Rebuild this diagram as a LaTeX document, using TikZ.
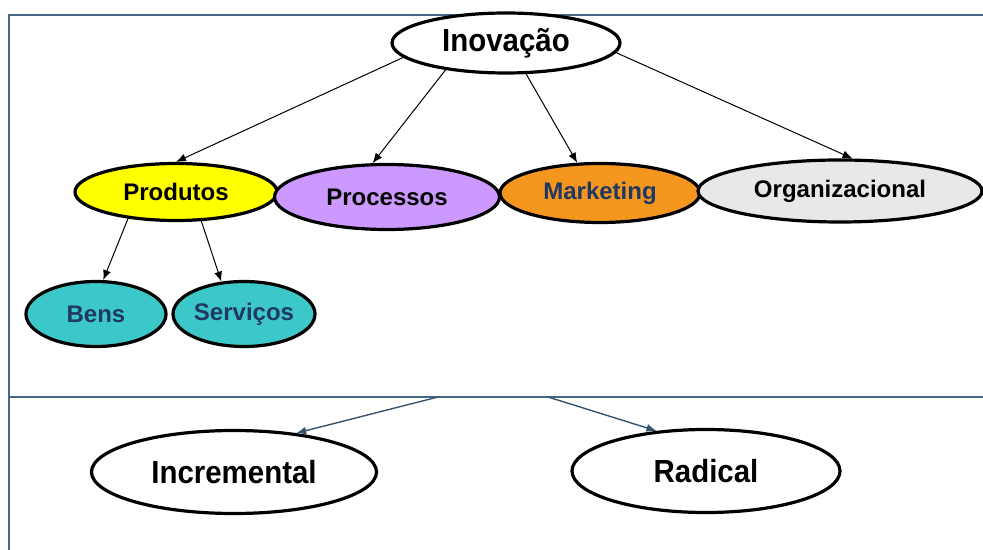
\documentclass[tikz,border=0pt]{standalone}
\usepackage{fontspec}
\setmainfont{Liberation Sans}
\newfontfamily\narrowsans{Liberation Sans}[FakeStretch=0.92]
\definecolor{frameblue}{RGB}{70,105,135}
\definecolor{textblue}{RGB}{31,56,100}
\definecolor{prodyellow}{RGB}{255,255,0}
\definecolor{proclilac}{RGB}{204,153,255}
\definecolor{mktorange}{RGB}{245,150,30}
\definecolor{orggray}{RGB}{232,232,232}
\definecolor{bensteal}{RGB}{60,200,200}
\usetikzlibrary{arrows.meta,shapes.geometric}

\begin{document}
\begin{tikzpicture}[x=0.5pt,y=-0.5pt,
        oval/.style={ellipse,draw,line width=1.6pt,inner sep=0pt,
                     font=\fontsize{12}{14}\selectfont\bfseries},
        big/.style={oval,fill=white,font=\narrowsans\fontsize{16}{18}\selectfont\bfseries},
        arr/.style={-{Latex[length=5pt,width=4pt]},line width=0.5pt},
        barr/.style={arr,frameblue!80!black,line width=0.7pt}]
        \useasboundingbox (0,0) rectangle (983,550);
        \draw[frameblue,line width=1.2pt] (9,550) -- (9,15) -- (983,15);
        \draw[frameblue,line width=1.2pt] (9,397) -- (983,397);
        % top level
        \node[big,minimum width=114pt,minimum height=30pt] (ino) at (506,43) {Inovação};
        \node[oval,fill=prodyellow,minimum width=101pt,minimum height=28.5pt] (prod) at (176,192) {Produtos};
        \node[oval,fill=proclilac,minimum width=112.5pt,minimum height=32.5pt] (proc) at (387,197) {Processos};
        \node[oval,fill=mktorange,text=textblue,minimum width=100pt,minimum height=29.5pt] (mkt) at (600,193) {Marketing};
        \node[oval,fill=orggray,minimum width=142pt,minimum height=31pt] (org) at (840,191) {Organizacional};
        \node[oval,fill=bensteal,text=textblue,minimum width=70pt,minimum height=32.5pt] (bens) at (96,314) {Bens};
        \node[oval,fill=bensteal,text=textblue,minimum width=71pt,minimum height=32.5pt] (serv) at (244,314) {Serviços};
        \draw[arr] (ino.188) -- (prod.north);
        \draw[arr] (ino.204) -- (proc.113);
        \draw[arr] (ino.303) -- (mkt.127);
        \draw[arr] (ino.355) -- (org.69);
        \draw[arr] (prod.209) -- (bens.78);
        \draw[arr] (prod.311) -- (serv.125);
        % bottom level
        \node[big,minimum width=142.5pt,minimum height=41.5pt] (incr) at (234,472) {Incremental};
        \node[big,minimum width=134pt,minimum height=41.5pt] (rad) at (706,471) {Radical};
        \coordinate (divl) at (438,397);
        \coordinate (divr) at (548,397);
        \draw[barr] (divl) -- (incr.32);
        \draw[barr] (divr) -- (rad.141);
      \end{tikzpicture}
\end{document}
